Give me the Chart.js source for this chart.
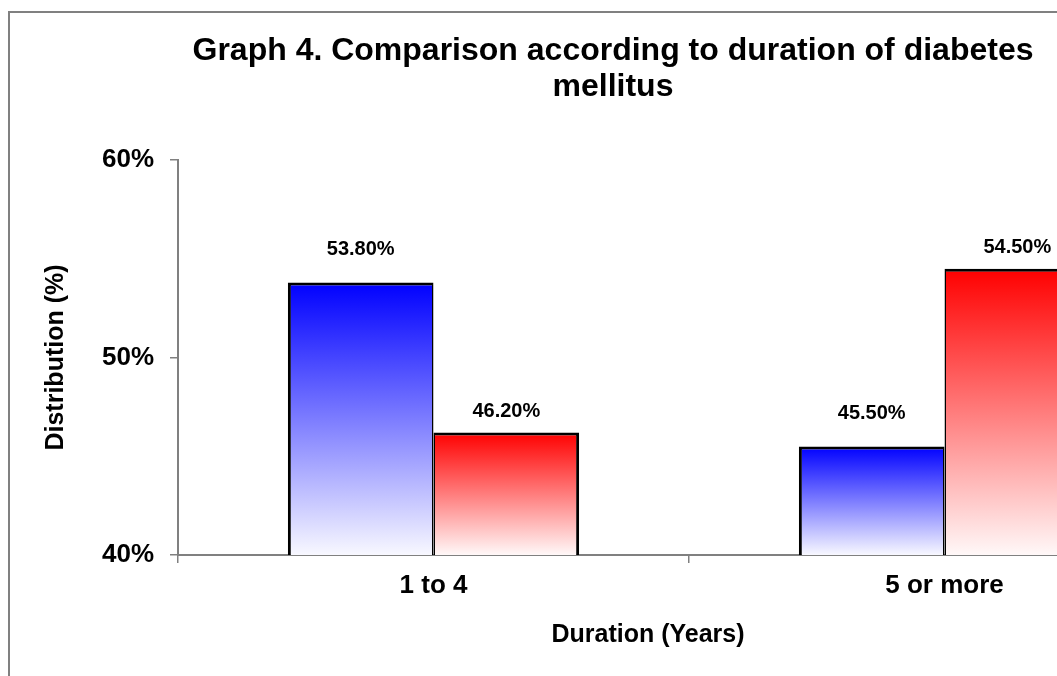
<!DOCTYPE html>
<html>
<head>
<meta charset="utf-8">
<script src="https://cdn.jsdelivr.net/npm/chart.js@4.4.0/dist/chart.umd.min.js"></script>
<style>
  html, body { margin: 0; padding: 0; background: #fff; overflow: hidden; width: 1057px; height: 676px; }
  #frame { position: absolute; left: 8px; top: 11px; width: 1220px; height: 720px; border: 2px solid #808080; }
  #frame canvas { position: absolute; left: 0; top: 0; }
</style>
</head>
<body>
<div id="frame"><canvas id="myChart" width="1190" height="700"></canvas></div>
<script>
// values
var categories = ['1 to 4', '5 or more'];
var seriesNames = ['Series 1', 'Series 2'];
var blueValues = [53.8, 45.5];
var redValues = [46.2, 54.5];
var yTickValues = [40, 50, 60];
var titleLines = ['Graph 4. Comparison according to duration of diabetes', 'mellitus'];
var xTitle = 'Duration (Years)';
var yTitle = 'Distribution (%)';

var FONT = "'Liberation Sans', Arial, sans-serif";

// vertical gradient for each bar, strong colour on top fading to white at the axis
function barGradient(topColor, bottomColor) {
    return function(context) {
        var chart = context.chart;
        if (!chart.chartArea || context.raw === undefined) return topColor;
        var yScale = chart.scales.y;
        var yTop = yScale.getPixelForValue(context.raw);
        var yBot = yScale.getPixelForValue(yScale.min);
        var g = chart.ctx.createLinearGradient(0, yTop, 0, yBot);
        g.addColorStop(0, topColor);
        g.addColorStop(1, bottomColor);
        return g;
    };
}

// percentage labels above the bars (gap above the bar top set per dataset)
// plus the x axis title, which sits left of the axis centre in the original
var valueLabels = {
    id: 'valueLabels',
    afterDatasetsDraw: function(chart) {
        var ctx = chart.ctx;
        ctx.save();
        ctx.font = 'bold 20px ' + FONT;
        ctx.fillStyle = '#000';
        ctx.textAlign = 'center';
        ctx.textBaseline = 'alphabetic';
        chart.data.datasets.forEach(function(ds, i) {
            var meta = chart.getDatasetMeta(i);
            var gap = ds.labelGap || 20;
            meta.data.forEach(function(bar, j) {
                ctx.fillText(ds.data[j].toFixed(2) + '%', bar.x, bar.y - gap);
            });
        });

        var xs = chart.scales.x;
        ctx.font = 'bold 25px ' + FONT;
        ctx.fillText(xTitle, xs.left + 470, xs.top + 87);
        ctx.restore();
    }
};

var ctx = document.getElementById('myChart').getContext('2d');
var myChart = new Chart(ctx, {
    type: 'bar',
    data: {
        labels: categories,
        datasets: [{
            label: seriesNames[0],
            data: blueValues,
            labelGap: 27,
            backgroundColor: barGradient('#0000ff', '#f8f8ff'),
            borderColor: '#000',
            borderWidth: {left: 3, right: 1.5, top: 3, bottom: 3},
            borderSkipped: false,
            categoryPercentage: 0.57,
            barPercentage: 1.0
        }, {
            label: seriesNames[1],
            data: redValues,
            labelGap: 16,
            backgroundColor: barGradient('#ff0000', '#fff8f8'),
            borderColor: '#000',
            borderWidth: {left: 1.5, right: 3, top: 3, bottom: 3},
            borderSkipped: false,
            categoryPercentage: 0.57,
            barPercentage: 1.0
        }]
    },
    options: {
        responsive: false,
        animation: false,
        layout: { padding: { left: 16, right: 0, top: 0, bottom: 0 } },
        plugins: {
            legend: { display: false },
            tooltip: { enabled: false },
            title: {
                display: true,
                text: titleLines,
                color: '#000',
                font: { family: FONT, size: 32, weight: 'bold', lineHeight: 1.125 },
                padding: { top: 20, bottom: 55 }
            }
        },
        scales: {
            x: {
                afterFit: function(scale) { scale.height = 158; },
                grid: { drawOnChartArea: false, drawTicks: true, tickLength: 8, color: '#808080', lineWidth: 1.5 },
                border: { display: true, color: '#808080', width: 2 },
                ticks: { color: '#000', padding: 7, font: { family: FONT, size: 26, weight: 'bold' } }
            },
            y: {
                min: 40,
                max: 60,
                afterFit: function(scale) { scale.width = 152; },
                afterBuildTicks: function(scale) {
                    scale.ticks = yTickValues.map(function(v) { return {value: v}; });
                },
                grid: { drawOnChartArea: false, drawTicks: true, tickLength: 8, color: '#808080', lineWidth: 1.5 },
                border: { display: true, color: '#808080', width: 2 },
                ticks: {
                    color: '#000',
                    padding: 16,
                    font: { family: FONT, size: 26, weight: 'bold' },
                    callback: function(v) { return v + '%'; }
                },
                title: {
                    display: true,
                    text: yTitle,
                    color: '#000',
                    font: { family: FONT, size: 25, weight: 'bold' },
                    padding: { top: 15, bottom: 0 }
                }
            }
        }
    },
    plugins: [valueLabels]
});
</script>
</body>
</html>
